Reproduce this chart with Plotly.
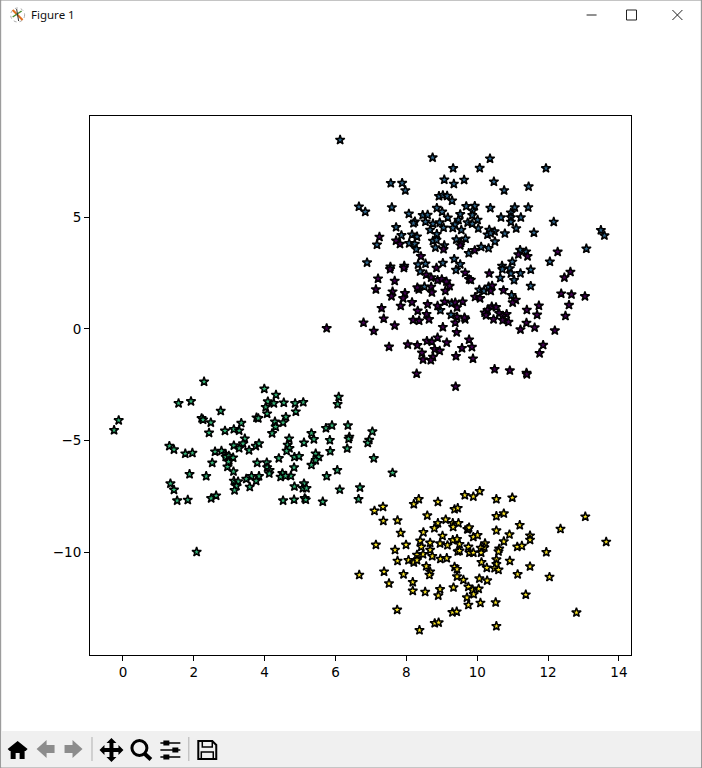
import plotly.graph_objects as go

blue_points = [
 (6.13,8.46),(8.74,7.67),(9.32,7.19),(9.07,6.68),(9.63,6.67),(9.34,6.49),(7.56,6.52),(7.88,6.53),(7.97,6.2),
 (8.92,5.94),(9.03,5.98),(9.15,5.95),(9.29,5.74),(9.69,5.49),(6.66,5.47),(6.84,5.24),(7.59,5.44),(8.07,5.15),
 (8.86,5.41),(9.01,5.24),(8.46,5.09),(8.6,5.1),(8.24,4.8),(8.2,4.73),(8.54,4.8),(8.75,4.71),(8.94,4.76),
 (9.17,4.98),(9.05,4.53),(9.52,5.13),(9.47,4.88),(9.37,4.67),(9.31,4.52),(9.55,4.43),(9.73,4.76),(7.71,4.55),
 (8.67,4.43),(8.86,4.24),(7.86,4.19),(8.16,4.22),(8.3,4.13),(7.17,3.77),(8.08,3.83),(8.24,3.8),(8.28,3.57),
 (8.75,3.94),(8.85,3.98),(8.82,3.64),(9.07,3.74),(9.41,4.0),(9.67,4.04),(9.76,3.39),(9.35,3.13),(6.89,2.97),
 (8.33,2.88),(8.54,2.92),(9.03,2.95),(9.52,2.89),(7.94,2.82),(7.55,2.78),
 (10.36,7.62),(10.07,7.2),(11.94,7.19),(10.47,6.59),(10.76,6.2),(11.45,6.37),(9.93,5.5),(9.87,5.29),(10.37,5.41),
 (11.06,5.44),(11.44,5.44),(10.95,5.2),(10.67,4.99),(11.23,4.99),(10.95,4.99),(10.95,4.79),(9.86,5.09),(10.01,4.88),
 (9.86,4.71),(10.03,4.5),(12.16,4.79),(11.1,4.5),(10.34,4.43),(10.49,4.36),(10.29,4.22),(10.38,4.28),(10.78,4.27),
 (11.6,4.31),(13.49,4.42),(13.59,4.18),(10.5,3.91),(10.11,3.67),(10.32,3.61),(13.08,3.59),(11.21,3.53),(11.38,3.46),
 (10.99,3.01),(12.05,3.01),(10.7,2.82),(9.4,2.64),(8.39,2.57),(8.51,1.89),(8.96,0.84),(9.28,1.15),(9.26,0.63),
 (10.71,2.67),(10.92,2.71),(11.51,2.65),(11.22,2.49),(10.95,2.48),(10.65,2.28),(11.04,2.18),(11.51,1.92),
 (10.06,1.75),(10.19,1.70),(10.32,1.89),(10.97,1.51),
]
purple_points = [
 (7.24,4.12),(7.71,3.95),(7.82,3.8),(8.41,3.25),(9.05,3.57),(9.54,3.86),(9.52,3.74),(9.93,3.52),(11.16,3.33),
 (11.42,3.25),(12.27,3.45),(7.54,2.67),(7.93,2.73),(8.85,2.73),(8.56,2.43),(9.66,2.51),(9.77,2.22),(7.2,2.25),
 (7.67,2.15),(7.14,1.77),(7.61,1.67),(7.58,1.46),(7.96,1.6),(7.91,1.37),(7.84,1.03),(8.16,1.19),(8.35,1.77),
 (8.31,1.85),(8.7,1.88),(8.72,1.63),(8.7,2.3),(8.88,2.18),(9.0,2.22),(9.13,2.12),(9.22,1.92),(9.1,1.7),
 (8.6,1.1),(8.88,1.03),(9.08,1.22),(9.38,1.18),(9.59,1.22),(9.43,0.96),(9.43,0.54),(9.38,0.28),(9.66,0.43),
 (9.64,0.51),(7.3,0.93),(8.32,0.81),(8.57,0.66),(7.36,0.46),(6.79,0.28),(8.19,0.4),(8.36,0.37),(8.64,0.43),
 (7.67,0.15),(9.03,0.08),(7.08,-0.09),(9.42,-0.15),(5.75,0.03),(8.88,-0.39),(8.58,-0.54),(8.72,-0.57),(9.14,-0.61),
 (9.77,-0.48),(8.04,-0.7),(8.31,-0.73),(7.51,-0.8),(9.57,-0.86),(8.8,-0.91),(8.94,-0.98),(8.44,-1.07),(8.75,-1.25),
 (8.47,-1.37),(8.69,-1.40),(9.4,-1.22),(9.88,-1.33),(8.29,-2.0),(9.39,-2.58),(10.34,2.48),(12.63,2.55),(12.46,2.30),
 (9.82,2.19),(10.42,1.93),(10.38,1.70),(10.74,1.73),(12.37,1.58),(12.66,1.54),(13.04,1.46),(9.94,1.43),(10.08,1.37),
 (11.09,1.30),(11.0,1.18),(12.59,1.07),(11.74,1.04),(11.4,0.85),(10.41,1.0),(10.53,0.97),(10.29,0.84),(10.21,0.73),
 (10.25,0.61),(10.62,0.7),(10.83,0.66),(10.72,0.58),(11.69,0.63),(12.49,0.58),(10.46,0.43),(10.72,0.39),(10.88,0.31),
 (11.39,0.27),(11.62,0.06),(11.22,-0.03),(12.19,-0.07),(11.86,-0.72),(11.76,-1.09),(9.85,-0.81),(10.49,-1.8),
 (10.92,-1.86),(11.39,-1.97),(11.4,-2.03),
]
green_points = [
 (2.29,-2.36),(1.57,-3.33),(1.92,-3.24),(2.76,-3.67),(-0.12,-4.09),(-0.25,-4.53),(2.22,-4.0),(2.26,-4.06),(2.48,-4.19),
 (2.43,-4.65),(2.88,-4.56),(1.31,-5.24),(1.44,-5.4),(1.76,-5.58),(1.96,-5.55),(2.6,-5.49),(2.78,-5.46),(2.9,-5.61),
 (3.0,-5.88),(2.52,-5.99),(2.95,-6.17),(1.88,-6.5),(2.35,-6.59),(1.34,-6.92),(1.44,-7.2),(1.53,-7.68),(1.83,-7.65),
 (2.49,-7.58),(2.63,-7.46),(3.99,-2.68),(4.32,-2.95),(4.09,-3.25),(4.26,-3.33),(4.54,-3.3),(4.86,-3.33),(5.09,-3.28),
 (4.03,-3.5),(4.07,-3.79),(4.88,-3.7),(6.09,-3.04),(6.06,-3.37),(3.77,-3.97),(3.82,-4.0),(4.6,-3.94),(4.52,-4.19),
 (4.29,-4.15),(4.31,-4.38),(4.21,-4.67),(3.34,-4.21),(3.13,-4.49),(3.28,-4.55),(3.44,-4.91),(3.13,-5.22),(3.39,-5.13),
 (3.28,-5.34),(3.56,-5.43),(3.75,-5.24),(3.84,-5.13),(4.69,-4.91),(4.65,-5.19),(4.7,-5.34),(4.62,-5.46),(5.11,-5.09),
 (5.32,-4.67),(5.39,-4.94),(5.73,-4.44),(5.9,-4.32),(6.35,-4.32),(6.39,-4.83),(6.37,-4.92),(5.84,-4.98),(5.85,-5.47),
 (6.33,-5.35),(7.04,-4.59),(6.95,-4.97),(6.91,-5.1),(7.08,-5.79),(4.84,-5.73),(4.97,-5.7),(4.4,-5.79),(5.44,-5.58),
 (5.53,-5.73),(5.44,-5.88),(5.32,-6.09),(3.79,-5.99),(4.06,-5.98),(4.07,-6.2),(4.14,-6.32),(4.13,-6.47),(4.83,-6.2),
 (4.74,-6.58),(4.5,-6.46),(4.45,-6.62),(4.59,-6.58),(6.05,-6.32),(5.75,-6.59),(2.9,-5.73),(2.99,-5.68),(3.11,-5.76),
 (2.98,-5.94),(3.12,-6.38),(3.84,-6.59),(3.63,-6.59),(3.48,-6.71),(3.76,-6.8),(3.13,-6.8),(3.25,-6.83),(3.2,-7.03),
 (3.15,-7.22),(3.58,-7.07),(5.11,-6.92),(4.84,-7.05),(5.08,-7.13),(5.18,-7.13),(6.12,-7.19),(6.69,-7.1),(4.52,-7.68),
 (4.83,-7.64),(5.13,-7.58),(5.16,-7.64),(5.64,-7.73),(6.65,-7.62),(7.61,-6.44),(2.08,-9.98),
]
yellow_points = [
 (8.35,-7.62),(8.21,-7.84),(8.89,-7.74),(9.65,-7.44),(7.1,-8.14),(7.34,-7.96),(9.36,-8.07),(9.45,-8.02),(7.35,-8.59),
 (7.75,-8.57),(8.59,-8.35),(9.11,-8.53),(8.89,-8.69),(9.31,-8.69),(9.47,-8.69),(8.79,-8.92),(9.32,-8.86),(9.72,-8.96),
 (7.84,-9.13),(8.48,-9.1),(9.02,-9.26),(8.39,-9.48),(9.31,-9.45),(9.43,-9.41),(8.67,-9.57),(8.95,-9.6),(9.16,-9.68),
 (9.5,-9.63),(7.14,-9.66),(7.99,-9.66),(8.42,-9.75),(9.75,-9.75),(8.67,-9.89),(7.68,-9.89),(9.45,-9.96),(9.5,-9.93),
 (8.47,-10.08),(8.3,-10.11),(8.73,-10.17),(9.78,-10.01),(7.75,-10.38),(8.06,-10.35),(8.21,-10.45),(8.3,-10.35),
 (8.96,-10.29),(9.14,-10.26),(8.56,-10.62),(9.36,-10.65),(9.43,-10.75),(7.37,-10.86),(6.67,-11.01),(7.92,-10.98),
 (8.67,-10.86),(8.65,-11.01),(9.43,-11.08),(9.61,-11.23),(8.18,-11.33),(7.51,-11.39),(9.75,-11.54),(9.33,-11.57),
 (8.95,-11.65),(8.18,-11.72),(8.53,-11.77),(8.9,-11.93),(9.71,-12.02),(9.75,-12.35),(7.74,-12.57),(9.3,-12.68),
 (9.42,-12.65),(8.8,-13.17),(8.91,-13.14),(8.37,-13.48),(10.07,-7.26),(9.89,-7.5),(10.54,-7.62),(10.99,-7.55),
 (10.54,-8.38),(10.75,-8.26),(13.05,-8.4),(11.2,-8.78),(12.35,-8.95),(10.54,-9.02),(9.74,-8.96),(9.77,-8.89),
 (10.91,-9.2),(11.49,-9.25),(11.49,-9.44),(9.89,-9.31),(10.01,-9.23),(10.75,-9.51),(13.64,-9.53),(10.22,-9.6),
 (10.2,-9.78),(10.1,-9.8),(11.13,-9.75),(11.26,-9.71),(10.62,-9.84),(10.6,-9.96),(11.95,-9.99),(9.89,-10.01),
 (10.11,-10.01),(10.92,-10.38),(10.12,-10.44),(10.54,-10.32),(10.54,-10.53),(10.27,-10.69),(10.49,-10.71),(10.6,-10.78),
 (11.49,-10.63),(11.14,-10.98),(12.04,-11.1),(10.06,-11.17),(10.28,-11.26),(10.04,-11.63),(9.87,-11.68),(9.9,-11.87),
 (11.37,-11.89),(10.09,-12.26),(10.52,-12.24),(12.8,-12.69),(10.54,-13.3),
]
x_ticks = [0, 2, 4, 6, 8, 10, 12, 14]
y_ticks = [-10, -5, 0, 5]
window_title = "Figure 1"

L, R, T, B = 89.5, 631.5, 116, 655
def px(x): return (x - L) / (R - L)
def py(y): return (B - y) / (B - T)
def path(points, close=True):
    s = "M " + " L ".join(f"{px(a):.5f},{py(b):.5f}" for a, b in points)
    return s + (" Z" if close else "")

shapes = []
def rect(x0, y0, x1, y1, fill=None, line=None, w=1):
    shapes.append(dict(type="rect", xref="paper", yref="paper", x0=px(x0), y0=py(y0), x1=px(x1), y1=py(y1),
                       fillcolor=fill or "rgba(0,0,0,0)", line=dict(color=line or "rgba(0,0,0,0)", width=w if line else 0)))
def poly(points, fill="#000000", line=None, w=0, close=True):
    shapes.append(dict(type="path", xref="paper", yref="paper", path=path(points, close),
                       fillcolor=fill if close else "rgba(0,0,0,0)",
                       line=dict(color=line or "rgba(0,0,0,0)", width=w)))
def seg(x0, y0, x1, y1, color="#000000", w=1):
    shapes.append(dict(type="line", xref="paper", yref="paper", x0=px(x0), y0=py(y0), x1=px(x1), y1=py(y1),
                       line=dict(color=color, width=w)))
def circ(cx, cy, r, line="#000000", w=1, dash="solid"):
    shapes.append(dict(type="circle", xref="paper", yref="paper", x0=px(cx-r), y0=py(cy+r), x1=px(cx+r), y1=py(cy-r),
                       line=dict(color=line, width=w, dash=dash)))

# window frame
rect(0, 0, 702, 768, line="#8a8a8a", w=1)
# toolbar band
rect(1, 731, 701, 767, fill="#f0f0f0")
# title bar buttons
seg(587, 15, 597, 15, "#222222", 1)
rect(627, 10, 637, 20, line="#222222", w=1)
seg(673, 10, 683, 20, "#222222", 1)
seg(683, 10, 673, 20, "#222222", 1)
# title bar logo
circ(17, 15, 7, line="#aaaaaa", w=1, dash="dot")
seg(12, 10, 22, 20, "#e07020", 2)
seg(12, 17, 21, 11, "#4a8a30", 1.5)
seg(16, 9, 18, 21, "#333333", 1)
# home
poly([(7,749),(17,741),(27,749),(25,751),(24,751),(24,759),(19,759),(19,753),(15,753),(15,759),(10,759),(10,751),(9,751)])
# back / forward (dithered in the reference)
poly([(36,749),(46,740),(46,745),(54,745),(54,753),(46,753),(46,758)], fill="#8c8c8c")
poly([(82,749),(72,740),(72,745),(64,745),(64,753),(72,753),(72,758)], fill="#8c8c8c")
seg(91.5, 737, 91.5, 761, "#b0b0b0", 1)
# pan
poly([(111,738),(116,743),(113,743),(113,748),(118,748),(118,745),(123,750),(118,755),(118,752),(113,752),(113,757),
      (116,757),(111,762),(106,757),(109,757),(109,752),(104,752),(104,755),(99,750),(104,745),(104,748),(109,748),(109,743),(106,743)])
# zoom
circ(139, 748, 7.5, w=3)
seg(144, 753.5, 150.5, 759.5, w=4)
# sliders
for yy, knob in ((743, 166), (750, 175), (757, 166)):
    seg(160, yy, 180, yy, w=1.5)
    rect(knob - 3, yy - 2.5, knob + 3, yy + 2.5, fill="#000000")
seg(188.5, 737, 188.5, 761, "#b0b0b0", 1)
# save
poly([(198,741),(212,741),(216,745),(216,759),(198,759)], fill="rgba(0,0,0,0)", line="#000000", w=2)
rect(202, 741, 212, 747, line="#000000", w=1.5)
rect(201, 752, 213, 759, line="#000000", w=1.5)

fig = go.Figure()
for points, color in ((blue_points, "#31688e"), (purple_points, "#440154"),
                      (green_points, "#35b779"), (yellow_points, "#fde725")):
    xs, ys = zip(*points)
    fig.add_trace(go.Scatter(x=list(xs), y=list(ys), mode="markers", showlegend=False,
                             marker=dict(symbol="star", size=7, color=color,
                                         line=dict(color="#000000", width=1.5))))

axis = dict(showgrid=False, zeroline=False, showline=True, mirror=True, linecolor="#000000", linewidth=1,
            ticks="outside", ticklen=5, tickwidth=1, tickcolor="#000000",
            tickfont=dict(family="DejaVu Sans", size=13.5, color="#000000"))
fig.update_layout(
    width=702, height=768, autosize=False, paper_bgcolor="#ffffff", plot_bgcolor="#ffffff",
    margin=dict(l=L, r=702 - R, t=T, b=768 - B),
    xaxis=dict(range=[-0.93, 14.34], tickmode="array", tickvals=x_ticks, ticktext=[str(v) for v in x_ticks], **axis),
    yaxis=dict(range=[-14.59, 9.53], tickmode="array", tickvals=y_ticks,
               ticktext=[str(v).replace("-", "\u2212") for v in y_ticks], **axis),
    shapes=shapes,
    annotations=[dict(text=window_title, xref="paper", yref="paper", x=px(28), y=py(15), xanchor="left", yanchor="middle",
                      showarrow=False, font=dict(family="Noto Sans", size=11.5, color="#111111"))],
)
fig.write_html("out.html", config={"displayModeBar": False},
               post_script="document.body.style.margin='0';document.body.style.overflow='hidden';")
